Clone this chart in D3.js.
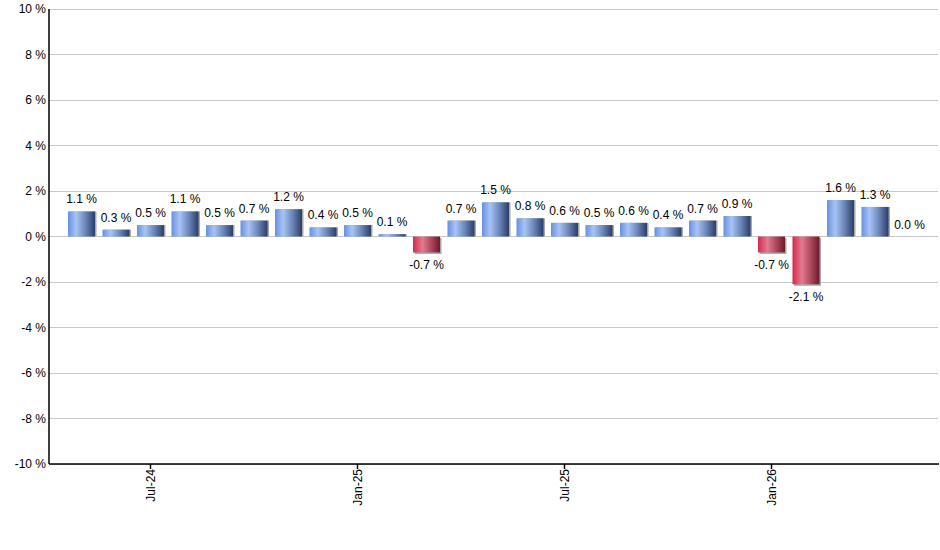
<!DOCTYPE html>
<html><head><meta charset="utf-8">
<script src="https://cdn.jsdelivr.net/npm/d3@7"></script>
<style>body{margin:0;background:#fff;}svg{display:block;font-family:"Liberation Sans",Arial,sans-serif;}</style>
</head><body>
<svg id="chart" width="940" height="550"></svg>
<script>
const months = ["2024-05","2024-06","2024-07","2024-08","2024-09","2024-10","2024-11","2024-12","2025-01","2025-02","2025-03","2025-04","2025-05","2025-06","2025-07","2025-08","2025-09","2025-10","2025-11","2025-12","2026-01","2026-02","2026-03","2026-04","2026-05"];
const values = [1.1,0.3,0.5,1.1,0.5,0.7,1.2,0.4,0.5,0.1,-0.7,0.7,1.5,0.8,0.6,0.5,0.6,0.4,0.7,0.9,-0.7,-2.1,1.6,1.3,0.0];
const tickMonths = ["2024-07","2025-01","2025-07","2026-01"];
const tickLabels = ["Jul-24","Jan-25","Jul-25","Jan-26"];
const yTicks = [-10,-8,-6,-4,-2,0,2,4,6,8,10];

(function(){
const svg = d3.select("#chart");
const pLeft = 49, pRight = 938, pTop = 9, pBottom = 464;
const x = d3.scaleBand().domain(months).range([64.25, 926.75]).paddingInner(0.217).paddingOuter(0.1085);
const y = d3.scaleLinear().domain([-10,10]).range([pBottom, pTop]);

const defs = svg.append("defs");
function grad(id, stops){
  const g = defs.append("linearGradient").attr("id", id).attr("x1","0%").attr("x2","100%").attr("y1","0%").attr("y2","0%");
  stops.forEach(s => g.append("stop").attr("offset", s[0]).attr("stop-color", s[1]));
}
grad("gBlue", [["0%","#6690e0"],["30%","#a8c4f6"],["65%","#6a85b8"],["100%","#2b3d68"]]);
grad("gRed", [["0%","#d42a4c"],["35%","#e37a8f"],["70%","#a84458"],["100%","#6a1a2c"]]);

svg.append("g").selectAll("line").data(yTicks).join("line")
  .attr("x1", pLeft).attr("x2", pRight)
  .attr("y1", d => y(d)).attr("y2", d => y(d))
  .attr("stroke", "#c8c8c8").attr("stroke-width", 1).attr("shape-rendering","crispEdges");

svg.append("g").selectAll("text").data(yTicks).join("text")
  .attr("x", pLeft - 3).attr("y", d => y(d)).attr("dy", "0.35em")
  .attr("text-anchor", "end").attr("font-size", 12).attr("fill", "#000")
  .text(d => d + " %");

const data = months.map((m, i) => ({m, v: values[i]}));

svg.append("g").selectAll("rect").data(data.filter(d => d.v !== 0)).join("rect")
  .attr("x", d => x(d.m) + 1.5)
  .attr("y", d => Math.min(y(d.v), y(0)) + (d.v < 0 ? 1.5 : 0))
  .attr("width", x.bandwidth())
  .attr("height", d => Math.abs(y(d.v) - y(0)))
  .attr("fill", "#a8a8a8");

svg.append("g").selectAll("rect").data(data.filter(d => d.v !== 0)).join("rect")
  .attr("x", d => x(d.m))
  .attr("y", d => Math.min(y(d.v), y(0)))
  .attr("width", x.bandwidth())
  .attr("height", d => Math.abs(y(d.v) - y(0)))
  .attr("fill", d => d.v < 0 ? "url(#gRed)" : "url(#gBlue)");

svg.append("g").selectAll("text").data(data).join("text")
  .attr("x", d => x(d.m) + x.bandwidth()/2)
  .attr("y", d => d.v < 0 ? y(d.v) + 17 : y(d.v) - 8)
  .attr("text-anchor", "middle").attr("font-size", 12).attr("fill", "#000")
  .text(d => d.v.toFixed(1) + " %");

svg.append("line").attr("x1", pLeft).attr("x2", pLeft).attr("y1", pTop).attr("y2", pBottom)
  .attr("stroke", "#000").attr("stroke-width", 1.5);
svg.append("line").attr("x1", pLeft).attr("x2", 939).attr("y1", pBottom).attr("y2", pBottom)
  .attr("stroke", "#000").attr("stroke-width", 1.5);

const xt = svg.append("g").selectAll("g").data(tickMonths).join("g")
  .attr("transform", d => `translate(${x(d) + x.bandwidth()/2},${pBottom})`);
xt.append("line").attr("y1", 0).attr("y2", 5).attr("stroke", "#000").attr("stroke-width", 1.5);
xt.append("text").attr("transform", "rotate(-90)")
  .attr("x", -5).attr("y", 0).attr("dy", "0.35em")
  .attr("text-anchor", "end").attr("font-size", 12).attr("fill", "#000")
  .text((d, i) => tickLabels[i]);
})();
</script>
</body></html>
